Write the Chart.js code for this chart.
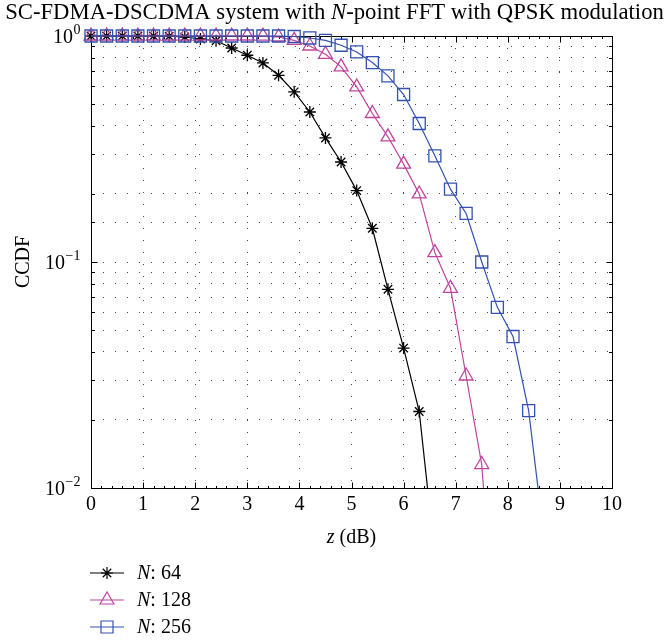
<!DOCTYPE html>
<html>
<head>
<meta charset="utf-8">
<script src="https://cdn.jsdelivr.net/npm/chart.js@4"></script>
<style>
html, body { margin: 0; padding: 0; background: #fff; }
</style>
</head>
<body>
<canvas id="myChart" width="669" height="642"></canvas>
<script>
// z (dB) sample points, one marker every 0.3 dB
const zValues = [0, 0.3, 0.6, 0.9, 1.2, 1.5, 1.8, 2.1, 2.4, 2.7, 3.0, 3.3, 3.6, 3.9, 4.2,
                 4.5, 4.8, 5.1, 5.4, 5.7, 6.0, 6.3, 6.6, 6.9, 7.2, 7.5, 7.8, 8.1, 8.4, 8.7];

// CCDF (last value of each goes below 10^-2 and is clipped)
const ccdf64 = [1, 1, 1, 1, 1, 0.998, 0.99, 0.97, 0.953, 0.885, 0.822, 0.76, 0.67, 0.566,
                0.461, 0.354, 0.277, 0.207, 0.141, 0.0757, 0.0416, 0.0218, 0.005];
const ccdf128 = [1, 1, 1, 1, 1, 1, 1, 1, 1, 1, 1, 0.998, 0.99, 0.957, 0.903, 0.83, 0.73,
                 0.595, 0.454, 0.358, 0.271, 0.2, 0.11, 0.0765, 0.0313, 0.0127, 0.0015];
const ccdf256 = [1, 1, 1, 1, 1, 1, 1, 1, 1, 1, 1, 1, 1, 0.995, 0.98, 0.957, 0.91, 0.85,
                 0.763, 0.666, 0.551, 0.41, 0.295, 0.21, 0.164, 0.1, 0.063, 0.0468, 0.022, 0.0059];

const seriesNames = ["64", "128", "256"];
const seriesColors = ["#000000", "#c0449e", "#3352b0"];
const seriesMarkers = ["star", "triangle", "rect"];
const seriesRadius = [6, 8, 8.5];

const xTickValues = [0, 1, 2, 3, 4, 5, 6, 7, 8, 9, 10];
const yTickValues = [1, 0.1, 0.01];
const yTickExponents = ["0", "\u22121", "\u22122"];

const FONT = "'Liberation Serif', 'Times New Roman', serif";

function toPoints(vals) {
  return vals.map((v, i) => ({x: zValues[i], y: v}));
}

// draw a string made of [text, italic] pieces
function drawParts(ctx, parts, x, y, size, align) {
  let total = 0;
  parts.forEach(p => {
    ctx.font = (p[1] ? 'italic ' : '') + size + 'px ' + FONT;
    total += ctx.measureText(p[0]).width;
  });
  let cx = align === 'center' ? x - total / 2 : x;
  parts.forEach(p => {
    ctx.font = (p[1] ? 'italic ' : '') + size + 'px ' + FONT;
    ctx.fillText(p[0], cx, y);
    cx += ctx.measureText(p[0]).width;
  });
}

function drawMarker(ctx, style, x, y, r) {
  ctx.beginPath();
  if (style === 'star') {
    const d = r * Math.SQRT1_2;
    ctx.moveTo(x - r, y); ctx.lineTo(x + r, y);
    ctx.moveTo(x, y - r); ctx.lineTo(x, y + r);
    ctx.moveTo(x - d, y - d); ctx.lineTo(x + d, y + d);
    ctx.moveTo(x - d, y + d); ctx.lineTo(x + d, y - d);
  } else if (style === 'triangle') {
    for (let k = 0; k < 3; k++) {
      const a = -Math.PI / 2 + k * 2 * Math.PI / 3;
      const px = x + Math.cos(a) * r, py = y + Math.sin(a) * r;
      if (k === 0) ctx.moveTo(px, py); else ctx.lineTo(px, py);
    }
    ctx.closePath();
  } else {
    const s = r * Math.SQRT1_2;
    ctx.rect(x - s, y - s, 2 * s, 2 * s);
  }
  ctx.stroke();
}

const decorations = {
  id: 'decorations',
  beforeDatasetsDraw(chart) {
    const {ctx, chartArea: a, scales: {x, y}} = chart;
    const L = Math.round(a.left) + 0.5, R = Math.round(a.right) + 0.5;
    const T = Math.round(a.top) + 0.5, B = Math.round(a.bottom) + 0.5;
    ctx.save();
    ctx.setLineDash([]);
    ctx.strokeStyle = '#000';
    ctx.lineWidth = 1;
    ctx.strokeRect(L, T, R - L, B - T);
    ctx.beginPath();
    for (let i = 0; i <= 50; i++) {
      const px = Math.round(x.getPixelForValue(i * 0.2)) + 0.5;
      const len = i % 5 === 0 ? 6 : 2.5;
      ctx.moveTo(px, B); ctx.lineTo(px, B - len);
      ctx.moveTo(px, T); ctx.lineTo(px, T + len);
    }
    y.ticks.forEach(t => {
      const py = Math.round(y.getPixelForValue(t.value)) + 0.5;
      const major = yTickValues.some(v => Math.abs(v - t.value) / v < 1e-6);
      const len = major ? 6 : 3.5;
      ctx.moveTo(L, py); ctx.lineTo(L + len, py);
      ctx.moveTo(R, py); ctx.lineTo(R - len, py);
    });
    ctx.stroke();
    ctx.restore();
  },
  afterDraw(chart) {
    const {ctx, chartArea: a, scales: {y}} = chart;
    ctx.save();
    ctx.fillStyle = '#000';
    ctx.textBaseline = 'alphabetic';
    // title
    drawParts(ctx, [["SC-FDMA-DSCDMA system with ", false], ["N", true],
                    ["-point FFT with QPSK modulation", false]], 334.5, 19, 22.7, 'center');
    // x axis title
    drawParts(ctx, [["z", true], [" (dB)", false]], (a.left + a.right) / 2, 543, 20, 'center');

    // y tick labels: 10 with a raised exponent, right edge at x = 80
    yTickValues.forEach((v, i) => {
      const py = y.getPixelForValue(v);
      ctx.font = '14px ' + FONT;
      const we = ctx.measureText(yTickExponents[i]).width;
      ctx.font = '20px ' + FONT;
      const wb = ctx.measureText('10').width;
      const x0 = 80.5 - we - wb - 0.5;
      ctx.textBaseline = 'middle';
      ctx.fillText('10', x0, py + 1.5);
      ctx.font = '14px ' + FONT;
      ctx.textBaseline = 'alphabetic';
      ctx.fillText(yTickExponents[i], x0 + wb + 0.5, py - 2.5);
    });

    // y axis title
    ctx.textBaseline = 'alphabetic';
    ctx.translate(29, (a.top + a.bottom) / 2);
    ctx.rotate(-Math.PI / 2);
    drawParts(ctx, [["CCDF", false]], 0, 0, 20, 'center');
    ctx.restore();

    // legend
    ctx.save();
    const rows = [573, 600, 627];
    seriesNames.forEach((name, i) => {
      const yy = rows[i];
      ctx.strokeStyle = seriesColors[i];
      ctx.lineWidth = 1.2;
      ctx.beginPath();
      ctx.moveTo(90, yy); ctx.lineTo(124, yy);
      ctx.stroke();
      drawMarker(ctx, seriesMarkers[i], 107, yy, seriesRadius[i]);
      ctx.fillStyle = '#000';
      ctx.textBaseline = 'middle';
      drawParts(ctx, [["N", true], [": " + name, false]], 137, yy + 1, 20, 'left');
    });
    ctx.restore();
  }
};

const datasets = [ccdf64, ccdf128, ccdf256].map((vals, i) => ({
  label: "N: " + seriesNames[i],
  data: toPoints(vals),
  borderColor: seriesColors[i],
  backgroundColor: 'rgba(0,0,0,0)',
  pointBorderColor: seriesColors[i],
  pointBackgroundColor: 'rgba(0,0,0,0)',
  pointStyle: seriesMarkers[i],
  pointRadius: seriesRadius[i],
  pointBorderWidth: 1.3,
  borderWidth: 1.2,
  showLine: true,
  tension: 0,
  order: 2 - i,
  clip: {left: 12, top: 12, right: 0, bottom: 0}
}));

new Chart("myChart", {
  type: "scatter",
  data: {datasets: datasets},
  plugins: [decorations],
  options: {
    responsive: false,
    animation: false,
    devicePixelRatio: 1,
    layout: {padding: {left: 0, right: 57, top: 36, bottom: 0}},
    plugins: {
      legend: {display: false},
      title: {display: false},
      tooltip: {enabled: false}
    },
    scales: {
      x: {
        type: 'linear',
        min: 0,
        max: 10,
        afterFit(scale) { scale.height = 154; },
        afterBuildTicks(scale) { scale.ticks = xTickValues.map(v => ({value: v})); },
        ticks: {
          color: '#000',
          padding: 5,
          maxRotation: 0,
          font: {family: FONT, size: 20}
        },
        grid: {color: 'rgba(0,0,0,0.7)', lineWidth: 1, drawTicks: false},
        border: {display: false, dash: [1, 11]}
      },
      y: {
        type: 'logarithmic',
        min: 0.01,
        max: 1,
        afterFit(scale) { scale.width = 91; },
        ticks: {
          color: '#000',
          padding: 9,
          autoSkip: false,
          font: {family: FONT, size: 20},
          callback() { return ''; }
        },
        grid: {color: 'rgba(0,0,0,0.7)', lineWidth: 1, drawTicks: false},
        border: {display: false, dash: [1, 11]}
      }
    }
  }
});
</script>
</body>
</html>
